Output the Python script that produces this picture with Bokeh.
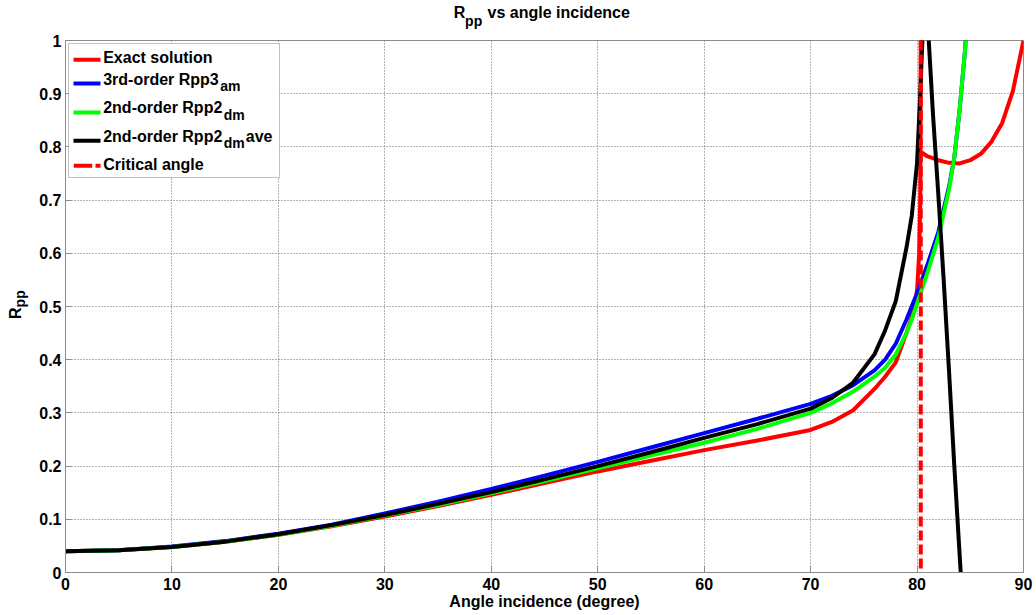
import math
from bokeh.plotting import figure
from bokeh.models import Label, BoxAnnotation, Span, FixedTicker, Range1d
from bokeh.embed import file_html
from bokeh.resources import INLINE

# ---------------- data ----------------
ANGLE_LOW = [0, 5, 10, 15, 20, 25, 30, 35, 40, 45, 50, 55, 60, 65, 70, 72, 74, 76, 77, 78, 79, 79.5, 80]

EXACT_LOW = [0.040, 0.042, 0.048, 0.058, 0.071, 0.087, 0.105, 0.125, 0.146, 0.168, 0.190, 0.210,
             0.230, 0.248, 0.268, 0.283, 0.305, 0.345, 0.368, 0.395, 0.450, 0.480, 0.530]
EXACT_PRE_X = [80.2, 80.3, 80.33, 80.35]
EXACT_PRE_Y = [0.60, 0.70, 0.85, 1.02]
EXACT_POST_X = [80.4, 81, 82, 83, 84, 85, 86, 87, 88, 89, 90]
EXACT_POST_Y = [0.790, 0.782, 0.775, 0.770, 0.769, 0.775, 0.787, 0.810, 0.845, 0.905, 1.0]

RPP3AM_LOW = [0.040, 0.042, 0.049, 0.059, 0.073, 0.090, 0.111, 0.133, 0.157, 0.182, 0.208, 0.235,
              0.262, 0.289, 0.317, 0.332, 0.352, 0.380, 0.400, 0.430, 0.475, 0.500, 0.525]
RPP3AM_HIGH_X = [81, 82, 83, 83.5, 84, 84.5, 84.8]
RPP3AM_HIGH_Y = [0.580, 0.640, 0.725, 0.780, 0.870, 0.980, 1.08]

RPP2DM_LOW = [0.040, 0.042, 0.048, 0.058, 0.071, 0.088, 0.107, 0.127, 0.149, 0.172, 0.196, 0.220,
              0.244, 0.270, 0.300, 0.318, 0.340, 0.368, 0.385, 0.410, 0.450, 0.475, 0.505]
RPP2DM_HIGH_X = [81, 82, 83, 83.5, 84, 84.5, 84.8]
RPP2DM_HIGH_Y = [0.565, 0.630, 0.720, 0.780, 0.870, 0.980, 1.08]

RPP2DMAVE_LOW = [0.040, 0.042, 0.048, 0.058, 0.072, 0.089, 0.108, 0.129, 0.151, 0.175, 0.200, 0.226,
                 0.253, 0.279, 0.308, 0.328, 0.357, 0.410, 0.455, 0.510, 0.610, 0.670, 0.770]
RPP2DMAVE_PRE_X = [80.3, 80.5, 80.6]
RPP2DMAVE_PRE_Y = [0.900, 1.000, 1.080]
RPP2DMAVE_POST_X = [80.9, 81.1, 81.5, 82.0, 82.5, 83.0, 83.5, 84.1, 84.3]
RPP2DMAVE_POST_Y = [1.080, 1.000, 0.860, 0.710, 0.550, 0.380, 0.200, 0.000, -0.060]

CRITICAL_ANGLE = 80.35

X_TICKS = [0, 10, 20, 30, 40, 50, 60, 70, 80, 90]
Y_TICKS = [0, 0.1, 0.2, 0.3, 0.4, 0.5, 0.6, 0.7, 0.8, 0.9, 1]
Y_TICK_LABELS = ["0", "0.1", "0.2", "0.3", "0.4", "0.5", "0.6", "0.7", "0.8", "0.9", "1"]

SERIES_NAMES = ["Exact solution", "3rd-order Rpp3", "2nd-order Rpp2", "2nd-order Rpp2", "Critical angle"]
SERIES_SUBS = ["", "am", "dm", "dm", ""]
SERIES_TAILS = ["", "", "", "ave", ""]

TITLE_MAIN = "R" + "\u00a0" * 5 + "vs angle incidence"
TITLE_SUB = "pp"
YLABEL_MAIN = "R"
YLABEL_SUB = "pp"

# ---------------- styling ----------------
FONT = "Liberation Sans"
RED, BLUE, GREEN, BLACK = "#ff0000", "#0000ff", "#00ff00", "#000000"
LW = 4
BASE_FIX = 6.0  # label baseline correction

p = figure(width=1036, height=615, x_range=Range1d(0, 90), y_range=Range1d(0, 1),
           output_backend="svg", toolbar_location=None, title=None,
           min_border_left=65, min_border_right=13, min_border_top=40, min_border_bottom=43)
p.background_fill_color = "white"
p.border_fill_color = "white"
p.outline_line_color = "#8c8c8c"
p.outline_line_width = 1

for ax in (p.xaxis[0], p.yaxis[0]):
    ax.axis_line_color = "#8c8c8c"
    ax.major_tick_line_color = "#8c8c8c"
    ax.major_tick_in = 6
    ax.major_tick_out = 0
    ax.minor_tick_line_color = None
    ax.major_label_text_font = FONT
    ax.major_label_text_font_style = "bold"
    ax.major_label_text_font_size = "16px"
    ax.major_label_text_color = "black"

p.xaxis.ticker = FixedTicker(ticks=X_TICKS)
p.yaxis.ticker = FixedTicker(ticks=Y_TICKS)
p.yaxis.major_label_overrides = {t: l for t, l in zip(Y_TICKS, Y_TICK_LABELS)}
p.xaxis.major_label_standoff = 5
p.yaxis.major_label_standoff = 4
p.xaxis.axis_label = "Angle incidence (degree)"
p.xaxis.axis_label_text_font = FONT
p.xaxis.axis_label_text_font_style = "bold"
p.xaxis.axis_label_text_font_size = "16px"
p.xaxis.axis_label_text_color = "black"
p.xaxis.axis_label_standoff = 0

for g in (p.xgrid[0], p.ygrid[0]):
    g.grid_line_color = "#666666"
    g.grid_line_dash = "1 2"
    g.grid_line_width = 1
p.xgrid.ticker = FixedTicker(ticks=X_TICKS)
p.ygrid.ticker = FixedTicker(ticks=Y_TICKS)

# ---------------- curves ----------------
p.line(ANGLE_LOW + EXACT_PRE_X, EXACT_LOW + EXACT_PRE_Y, line_color=RED, line_width=LW)
p.line(EXACT_POST_X, EXACT_POST_Y, line_color=RED, line_width=LW)
p.line(ANGLE_LOW + RPP3AM_HIGH_X, RPP3AM_LOW + RPP3AM_HIGH_Y, line_color=BLUE, line_width=LW)
p.line(ANGLE_LOW + RPP2DM_HIGH_X, RPP2DM_LOW + RPP2DM_HIGH_Y, line_color=GREEN, line_width=LW)
p.line(ANGLE_LOW + RPP2DMAVE_PRE_X, RPP2DMAVE_LOW + RPP2DMAVE_PRE_Y, line_color=BLACK, line_width=LW)
p.line(RPP2DMAVE_POST_X, RPP2DMAVE_POST_Y, line_color=BLACK, line_width=LW)
p.add_layout(Span(location=CRITICAL_ANGLE, dimension="height", line_color=RED,
                  line_width=LW, line_dash="10 4"))


def mk(text, x, y, size="16px", angle=0.0):
    return Label(text=text, x=x, y=y, x_units="screen", y_units="screen",
                 text_font=FONT, text_font_style="bold", text_font_size=size,
                 text_color="black", text_baseline="alphabetic", text_align="left",
                 angle=angle)


# ---------------- title (two stacked panels above the frame) ----------------
p.add_layout(mk(TITLE_MAIN, 388.3, 27.7), "above")      # panel nearest the frame
p.add_layout(mk(TITLE_SUB, 399.6, 2.1, size="14px"), "above")

# ---------------- y axis label (stacked panels left of the axis) ----------------
p.add_layout(mk(YLABEL_MAIN, -4.1, 253.5, angle=math.pi / 2), "left")
p.add_layout(mk(YLABEL_SUB, 16.0, 265.1, size="14px", angle=math.pi / 2), "left")

# ---------------- legend ----------------
p.add_layout(BoxAnnotation(left=3, right=214, bottom=395, top=529,
                           left_units="screen", right_units="screen",
                           bottom_units="screen", top_units="screen",
                           fill_color="white", fill_alpha=1.0,
                           line_color="#333333", line_width=1))
row_centers = [512.7, 489.0, 460.0, 431.7, 406.7]
row_baselines = [508.7, 487.0, 458.7, 430.3, 402.0]
colors = [RED, BLUE, GREEN, BLACK, RED]
sub_x = [0, 154.8, 158.3, 158.3, 0]
for i, (c, yc) in enumerate(zip(colors, row_centers)):
    segs = [(8, 35)] if i < 4 else [(8.3, 26.7), (30, 35)]
    for l, r in segs:
        p.add_layout(BoxAnnotation(left=l, right=r, bottom=yc - 2, top=yc + 2,
                                   left_units="screen", right_units="screen",
                                   bottom_units="screen", top_units="screen",
                                   fill_color=c, fill_alpha=1.0, line_color=None))
    yb = row_baselines[i] + BASE_FIX
    p.add_layout(mk(SERIES_NAMES[i], 37.7, yb))
    if SERIES_SUBS[i]:
        p.add_layout(mk(SERIES_SUBS[i], sub_x[i], yb - 6.7, size="14px"))
    if SERIES_TAILS[i]:
        p.add_layout(mk(SERIES_TAILS[i], sub_x[i] + 22.0, yb))

open("out.html", "w").write(file_html(p, INLINE))
